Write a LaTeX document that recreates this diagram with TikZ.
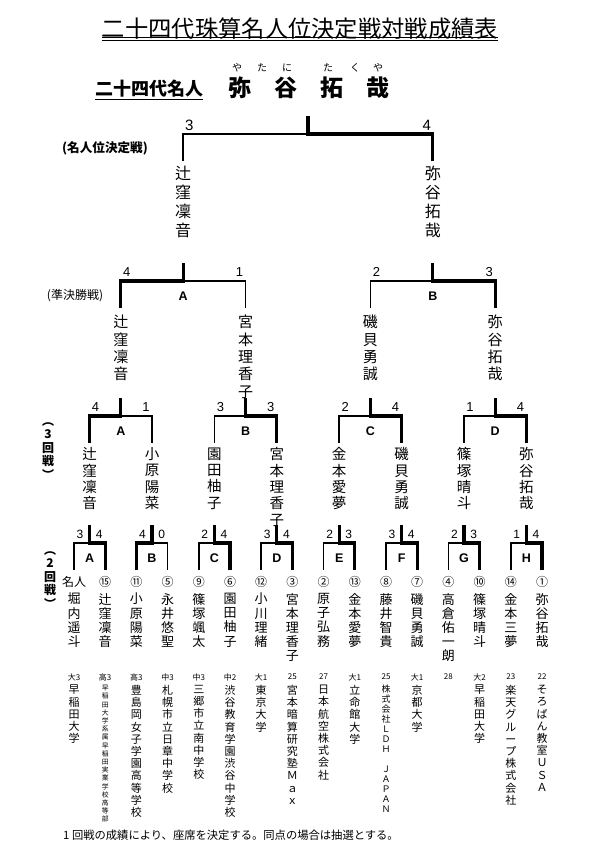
\documentclass[tikz,border=0pt]{standalone}
\usepackage{fontspec}
\setmainfont{Noto Sans CJK JP}
\newfontfamily\latinsf{Liberation Sans}
\usetikzlibrary{positioning}
\tikzset{win/.style={line width=3.2pt},
lose/.style={line width=1.6pt},
score/.style={inner sep=0pt, font=\latinsf\fontsize{#1}{#1}\selectfont},
tag/.style={inner sep=0pt, font=\latinsf\bfseries\fontsize{12.5}{12.5}\selectfont},
pname/.style={anchor=north, align=center, inner sep=0pt},
seed/.style={inner sep=0pt, font=\fontsize{12}{12}\selectfont},
grade/.style={inner sep=0pt, font=\fontsize{8}{8}\selectfont},
roundlbl/.style={align=center, inner sep=0pt, font=\bfseries\fontsize{12}{13.5}\selectfont}
}

% one glyph per line, top to bottom
\def\vtext#1{\expandafter\vtextA#1\vtextE}
\def\vtextA#1#2\vtextE{#1\ifx\relax#2\relax\else\\\vtextA#2\vtextE\fi}

% #1 id, #2 left x, #3 right x, #4 bar y, #5 winner l/r, #6 #7 scores, #8 letter, #9 score size
\newcommand\bout[9]{%
  \coordinate (#1l) at (#2,{#4+27});
  \coordinate (#1r) at (#3,{#4+27});
  \coordinate (#1m) at ({(#2+#3)/2},#4);
  \coordinate (#1t) at ({(#2+#3)/2},{#4-18});
  \node[score=#9] (#1sl) at ({#2+6},{#4-9}) {#6};
  \node[score=#9] (#1sr) at ({#3-6},{#4-9}) {#7};
  \node[tag] (#1tag) at ({(#2+#3)/2},{#4+15}) {#8};
  \if#5l\draw[win] (#1l) |- (#1m) -- (#1t); \draw[lose] (#1m) -| (#1r);
  \else\draw[win] (#1r) |- (#1m) -- (#1t); \draw[lose] (#1m) -| (#1l);\fi}

\begin{document}
\begin{tikzpicture}[x=1pt,y=-1pt]
\path[fill=white, use as bounding box] (0,0) rectangle (593,848);

% heading
\node[inner sep=0pt, font=\fontsize{23.3}{23.3}\selectfont] (title) at (300,29) {二十四代珠算名人位決定戦対戦成績表};
\coordinate (ul1) at (102,37.8); \coordinate (ur1) at (498,37.8);
\coordinate (ul2) at (102,40.3); \coordinate (ur2) at (498,40.3);
\draw[line width=1pt] (ul1) -- (ur1);
\draw[line width=0.8pt] (ul2) -- (ur2);

\node[inner sep=0pt, font=\bfseries\fontsize{18}{18}\selectfont] (champ) at (149,89) {二十四代名人};
\draw[line width=1.5pt] ([yshift=-1.5pt]champ.south west) -- ([yshift=-1.5pt]champ.south east);
\node[inner sep=0pt, font=\bfseries\fontsize{23}{23}\selectfont] (meijin) at (308.7,88) {弥　谷　拓　哉};
\foreach \x/\k [count=\i] in {237/や,262/た,287/に,328/た,355/く,378/や}
  \node[inner sep=0pt, font=\fontsize{10}{10}\selectfont] (ruby\i) at (\x,68) {\k};

% round labels
\node[inner sep=0pt, font=\bfseries\fontsize{12.6}{12.6}\selectfont] (lblf) at (105,148) {(名人位決定戦)};
\node[inner sep=0pt, font=\fontsize{12}{12}\selectfont] (lblsf) at (75,296) {(準決勝戦)};
\node[roundlbl] (lbl3) at (48,451) {\vtext{︵3回戦︶}};
\node[roundlbl] (lbl2) at (50,580) {\vtext{︵2回戦︶}};

% final
\bout{fin}{183.2}{432.8}{134}{r}{3}{4}{}{15}
\foreach \x/\nm [count=\i] in {183.2/辻窪凜音, 432.8/弥谷拓哉}
  \node[pname, font=\fontsize{16}{19}\selectfont] (f\i) at (\x,165.5) {\vtext{\nm}};

% semifinals
\bout{sfa}{120.8}{245.6}{281}{l}{4}{1}{A}{13}
\bout{sfb}{370.4}{495.2}{281}{r}{2}{3}{B}{13}
\foreach \x/\nm [count=\i] in {120.8/辻窪凜音, 245.6/宮本理香子, 370.4/磯貝勇誠, 495.2/弥谷拓哉}
  \node[pname, font=\fontsize{15}{17.3}\selectfont] (h\i) at (\x,315) {\vtext{\nm}};

% 3rd round
\bout{r3a}{89.6}{152}{416}{l}{4}{1}{A}{13}
\bout{r3b}{214.4}{276.8}{416}{r}{3}{3}{B}{13}
\bout{r3c}{339.2}{401.6}{416}{r}{2}{4}{C}{13}
\bout{r3d}{464}{526.4}{416}{r}{1}{4}{D}{13}
\foreach \x/\nm [count=\i] in {89.6/辻窪凜音, 152/小原陽菜, 214.4/園田柚子, 276.8/宮本理香子,
    339.2/金本愛夢, 401.6/磯貝勇誠, 464/篠塚晴斗, 526.4/弥谷拓哉}
  \node[pname, font=\fontsize{14.5}{16.3}\selectfont] (q\i) at (\x,447.5) {\vtext{\nm}};

% 2nd round
\bout{r2a}{74}{105.2}{543}{r}{3}{4}{A}{12}
\bout{r2b}{136.4}{167.6}{543}{l}{4}{0}{B}{12}
\bout{r2c}{198.8}{230}{543}{r}{2}{4}{C}{12}
\bout{r2d}{261.2}{292.4}{543}{r}{3}{4}{D}{12}
\bout{r2e}{323.6}{354.8}{543}{r}{2}{3}{E}{12}
\bout{r2f}{386}{417.2}{543}{r}{3}{4}{F}{12}
\bout{r2g}{448.4}{479.6}{543}{r}{2}{3}{G}{12}
\bout{r2h}{510.8}{542}{543}{r}{1}{4}{H}{12}
\foreach \sd/\nm/\gr/\af/\fs/\bs [count=\i] in {
    名人/堀内遥斗/大3/早稲田大学/11/12.2,
    ⑮/辻窪凜音/高3/早稲田大学系属早稲田実業学校高等部/6.8/8.2,
    ⑪/小原陽菜/高3/豊島岡女子学園高等学校/11/12.2,
    ⑤/永井悠聖/中3/札幌市立日章中学校/11/12.2,
    ⑨/篠塚颯太/中3/三郷市立南中学校/11/12.2,
    ⑥/園田柚子/中2/渋谷教育学園渋谷中学校/11/12.2,
    ⑫/小川理緒/大1/東京大学/11/12.2,
    ③/宮本理香子/25/宮本暗算研究塾Ｍａｘ/11/12.2,
    ②/原子弘務/27/日本航空株式会社/11/12.2,
    ⑬/金本愛夢/大1/立命館大学/11/12.2,
    ⑧/藤井智貴/25/株式会社ＬＤＨ　ＪＡＰＡＮ/9/10,
    ⑦/磯貝勇誠/大1/京都大学/11/12.2,
    ④/高倉佑一朗/28/　/11/12.2,
    ⑩/篠塚晴斗/大2/早稲田大学/11/12.2,
    ⑭/金本三夢/23/楽天グループ株式会社/11/12.2,
    ①/弥谷拓哉/22/そろばん教室ＵＳＡ/11/12.2}
{
  \pgfmathsetmacro\x{74+31.2*(\i-1)}
  \node[seed] (s\i) at (\x,582) {\sd};
  \node[pname, font=\fontsize{13}{14.2}\selectfont] (n\i) at (\x,593) {\vtext{\nm}};
  \node[grade] (g\i) at (\x,677) {\gr};
  \node[pname, font=\fontsize{\fs}{\bs}\selectfont] (a\i) at (\x,685) {\vtext{\af}};
}

\node[anchor=west, inner sep=0pt, font=\fontsize{11.3}{11.3}\selectfont] (note) at (63,835) {1 回戦の成績により、座席を決定する。同点の場合は抽選とする。};
\end{tikzpicture}
\end{document}
